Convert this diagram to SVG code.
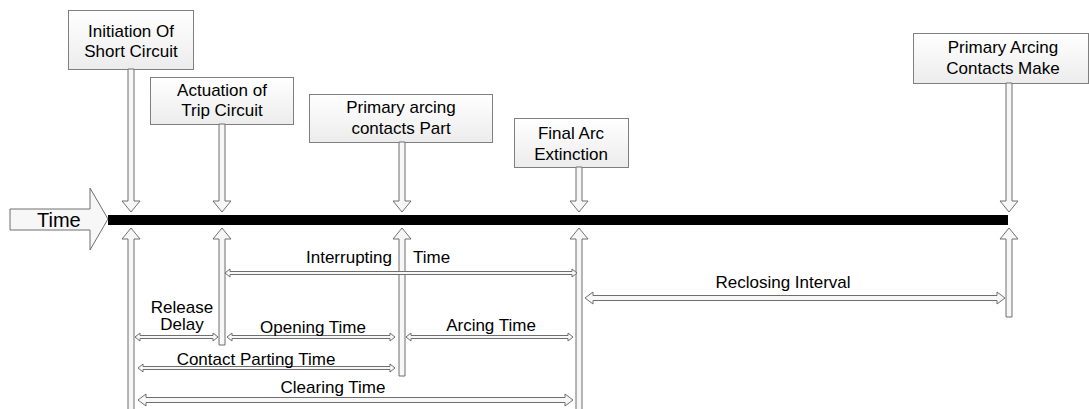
<svg xmlns="http://www.w3.org/2000/svg" width="1089" height="409" viewBox="0 0 1089 409">
<defs>
<linearGradient id="g" x1="0" y1="0" x2="0" y2="1"><stop offset="0" stop-color="#ffffff"/><stop offset="1" stop-color="#ececec"/></linearGradient>
</defs>
<style>
.box{fill:url(#g);stroke:#7f7f7f;stroke-width:1}
.ar{fill:#f7f7f7;stroke:#6f6f6f;stroke-width:1}
text{font-family:"Liberation Sans",Arial,sans-serif;font-size:17px;fill:#000}
.c{text-anchor:middle}
</style>
<rect width="1089" height="409" fill="#fff"/>
<g id="time-arrow">
<path class="ar" d="M10,209 L90,209 L90,188 L108,219 L90,250 L90,230 L10,230 Z"/>
<text x="37" y="227" style="font-size:20px">Time</text>
</g>
<rect id="timeline" x="108" y="215" width="900" height="10" fill="#000"/>
<g id="node-initiation">
<rect class="box" x="68.5" y="10.5" width="125" height="59"/>
<text class="c" x="131" y="37">Initiation Of</text>
<text class="c" x="131" y="57">Short Circuit</text>
</g>
<g id="node-actuation">
<rect class="box" x="150.5" y="77.5" width="143" height="47"/>
<text class="c" x="222" y="96">Actuation of</text>
<text class="c" x="222" y="116">Trip Circuit</text>
</g>
<g id="node-part">
<rect class="box" x="309.5" y="94.5" width="183" height="48"/>
<text class="c" x="401" y="113">Primary arcing</text>
<text class="c" x="401" y="134">contacts Part</text>
</g>
<g id="node-extinction">
<rect class="box" x="514.5" y="118.5" width="114" height="49"/>
<text class="c" x="571" y="139">Final Arc</text>
<text class="c" x="571" y="160">Extinction</text>
</g>
<g id="node-make">
<rect class="box" x="913.5" y="33.5" width="175" height="50"/>
<text class="c" x="1003" y="53">Primary Arcing</text>
<text class="c" x="1003" y="74">Contacts Make</text>
</g>
<g id="connectors">
<path class="ar" d="M128,69 L134,69 L134,201 L140,201 L131,212 L122,201 L128,201 Z"/>
<path class="ar" d="M219,124 L225,124 L225,201 L231,201 L222,212 L213,201 L219,201 Z"/>
<path class="ar" d="M399,142 L405,142 L405,201 L411,201 L402,212 L393,201 L399,201 Z"/>
<path class="ar" d="M576,167 L582,167 L582,201 L588,201 L579,212 L570,201 L576,201 Z"/>
<path class="ar" d="M1006,83 L1012,83 L1012,201 L1018,201 L1009,212 L1000,201 L1006,201 Z"/>
<path class="ar" d="M128,410 L134,410 L134,239 L140,239 L131,228 L122,239 L128,239 Z"/>
<path class="ar" d="M219,345 L225,345 L225,239 L231,239 L222,228 L213,239 L219,239 Z"/>
<path class="ar" d="M399,376 L405,376 L405,239 L411,239 L402,228 L393,239 L399,239 Z"/>
<path class="ar" d="M576,410 L582,410 L582,239 L588,239 L579,228 L570,239 L576,239 Z"/>
<path class="ar" d="M1006,317 L1012,317 L1012,239 L1018,239 L1009,228 L1000,239 L1006,239 Z"/>
<path class="ar" d="M225,273 L230,269 L230,271.5 L572,271.5 L572,269 L577,273 L572,277 L572,274.5 L230,274.5 L230,277 Z"/>
<path class="ar" d="M135,337 L140,333 L140,335.5 L213,335.5 L213,333 L218,337 L213,341 L213,338.5 L140,338.5 L140,341 Z"/>
<path class="ar" d="M227,337 L232,333 L232,335.5 L390,335.5 L390,333 L395,337 L390,341 L390,338.5 L232,338.5 L232,341 Z"/>
<path class="ar" d="M406,337 L411,333 L411,335.5 L568,335.5 L568,333 L573,337 L568,341 L568,338.5 L411,338.5 L411,341 Z"/>
<path class="ar" d="M138,368 L143,364 L143,366.5 L390,366.5 L390,364 L395,368 L390,372 L390,369.5 L143,369.5 L143,372 Z"/>
<path class="ar" d="M138,400 L146,394 L146,397.5 L565,397.5 L565,394 L573,400 L565,406 L565,402.5 L146,402.5 L146,406 Z"/>
<path class="ar" d="M585,298 L593,292 L593,295.5 L997,295.5 L997,292 L1005,298 L997,304 L997,300.5 L593,300.5 L593,304 Z"/>
</g>
<g id="labels">
<text x="392" y="263" text-anchor="end">Interrupting</text>
<text x="413" y="263">Time</text>
<text class="c" x="182" y="313">Release</text>
<text class="c" x="182" y="330">Delay</text>
<text class="c" x="313" y="333">Opening Time</text>
<text class="c" x="491" y="331">Arcing Time</text>
<text class="c" x="256" y="365">Contact Parting Time</text>
<text class="c" x="333" y="393">Clearing Time</text>
<text class="c" x="783" y="288">Reclosing Interval</text>
</g>
</svg>
